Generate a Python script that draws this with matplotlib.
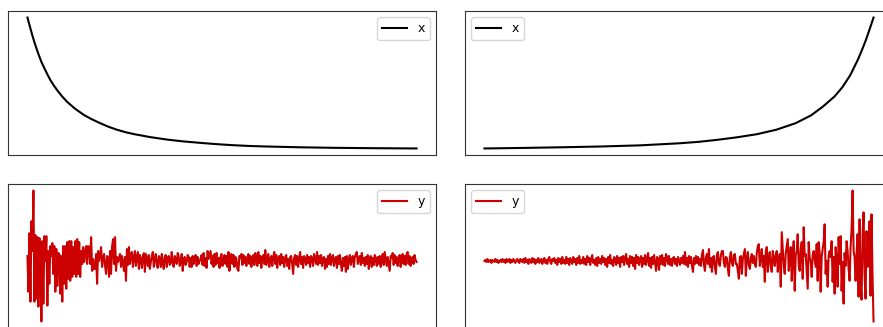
import numpy as np
import matplotlib
matplotlib.use("Agg")
import matplotlib.pyplot as plt

# ---- data ----
# top-left curve (decaying), x normalised 0..1
decay_x = [0.0, 0.005, 0.0085, 0.0125, 0.017, 0.023, 0.030, 0.036, 0.0425, 0.051,
           0.0596, 0.068, 0.0767, 0.089, 0.102, 0.123, 0.145, 0.166, 0.187, 0.208,
           0.230, 0.251, 0.273, 0.315, 0.358, 0.40, 0.443, 0.485, 0.528, 0.57,
           0.614, 0.70, 0.784, 0.89, 1.0]
decay_y = [1.0, 0.945, 0.907, 0.865, 0.82, 0.765, 0.707, 0.66, 0.619, 0.567,
           0.519, 0.48, 0.444, 0.398, 0.356, 0.302, 0.256, 0.222, 0.193, 0.166,
           0.143, 0.125, 0.110, 0.087, 0.068, 0.054, 0.043, 0.033, 0.025, 0.019,
           0.015, 0.009, 0.005, 0.002, 0.0]

# top-right curve (growing)
grow_x = [0.0, 0.1, 0.2, 0.3, 0.4, 0.5, 0.55, 0.6, 0.65, 0.7,
          0.75, 0.8, 0.84, 0.87, 0.9, 0.92, 0.94, 0.96, 0.97, 0.98, 0.99, 1.0]
grow_y = [0.0, 0.004, 0.009, 0.015, 0.0235, 0.039, 0.050, 0.066, 0.085, 0.108,
          0.142, 0.192, 0.252, 0.318, 0.395, 0.465, 0.555, 0.675, 0.745, 0.82, 0.905, 0.993]

# bottom-left noise (decaying amplitude)
noise_left = [
    5, -31, 28, -41, 40, 10, 71, -41, 26, -38, 24, -46, 23, 5, -61, 20, -43, 25, 0, 25,
    -45, 10, -23, 15, 5, 18, -13, 15, -31, 12, -25, 8, 7, -33, 5, -41, 15, -23, 15, -28,
    19, -18, 20, -20, 20, -16, 14, -13, 20, -16, 22, -13, 19, -16, 10, -3, 14, -1, 8, 15,
    -3, 15, 14, -3, 24, -10, 2, -8, -8, 7, -23, 10, 0, 6, 14, -6, 3, 7, -5, -13,
    5, 3, -16, 10, -13, 14, 22, -3, 24, -10, 4, -1, 3, 7, -6, 5, -2, -10, 4, -20,
    12, -4, 14, -3, 6, 9, -6, 3, 10, -5, 4, 9, -8, 6, 2, -7, 5, 8, -11, 7,
    2, -5, 6, -8, -1, 5, 9, -6, 2, 7, -4, -7, 5, 3, -6, 7, -2, -8, 4, 6,
    -6, 3, 5, -4, -1, 9, -3, -6, 5, 2, -3, 8, 4, -5, -1, 7, -10, 1, 4, -4,
    -1, 6, 4, -6, 3, -6, 5, -3, 2, 6, -5, 4, -3, 0, 2, 6, -4, 8, -5, 3,
    -7, 10, 2, 6, 10, -3, 5, -6, 7, -4, 8, -2, 3, -7, 4, 7, -5, 2, 6, -3,
    5, -6, 9, -10, 4, 7, -3, 6, -6, 4, 2, -8, -10, 5, 3, 7, -4, 6, -2, 4,
    -5, 3, 7, -3, 5, -6, 2, 6, -4, 8, 3, -5, 9, -2, 5, -7, 4, 6, -3, 11,
    -4, 3, 7, -6, 2, 5, -5, 4, 9, -3, 6, -7, 3, 5, -4, 7, -2, 4, -6, 3,
    6, -5, 2, -8, 4, 5, -3, -13, 3, 6, -4, 5, -6, 2, 9, -3, 4, -7, 5, 2,
    -4, 6, -2, 4, -6, 5, 3, -5, 7, 2, -3, 9, -4, 5, -2, 6, -5, 3, 4, -8,
    2, -6, 5, -3, 7, -4, 3, 6, -5, 2, 4, -7, 5, -3, 6, -4, -10, 3, -5, 4,
    -11, 5, -8, 2, 6, -4, 3, 5, -6, 4, 7, 9, -3, 2, 5, -4, 8, -2, 3, -5,
    4, -3, 6, -8, 2, 5, -6, 3, -4, 6, 2, -5, 4, -3, 5, -6, 3, 7, -4, 9,
    2, -5, 4, -3, -10, 5, 3, 8, -4, 6, -2, 4, -5, 3, 6, -6, 2, 7, -3, 5,
    -4, 6, 9, -3, 5, -5, 2, 4, -3, 6, 1, -1,
]

# bottom-right noise (growing amplitude)
noise_right = [
    0, 1, -1, 2, -1, 0, 1, -2, 1, 0, -1, 2, -1, 1, -2, 0, 1, -1, 2, -1,
    1, -2, 2, -1, 0, 2, -2, 1, -1, 2, 0, -2, 1, 2, -1, -2, 2, 0, -1, 2,
    -2, 3, -1, 1, -3, 2, 0, -2, 3, -1, 2, -3, 1, -1, 3, -2, 0, 2, -3, 1,
    3, -2, 1, -3, 2, 4, -1, -3, 2, 0, 3, -2, 1, -4, 3, -1, 2, -3, 4, -2,
    1, -3, 4, -2, 2, -4, 3, 0, -3, 4, -1, 2, -4, 3, -2, 5, -3, 1, -2, 4,
    -3, 2, -4, 5, -1, 3, -4, 2, 6, -2, 1, -4, 3, -5, 4, -2, 2, -3, 5, -1,
    3, -4, 2, -6, 4, -2, 6, -3, 1, -5, 4, 2, -4, 5, -2, 3, -6, 4, -1, 5,
    -4, 3, 7, -3, 2, -6, 5, -2, 4, -5, 3, -8, 6, -2, 4, -4, 2, 5, -6, 3,
    -3, 6, -4, 2, 8, -5, 3, -7, 4, -3, 6, -2, -10, 4, 2, -9, 5, -3, 6, -4,
    3, -5, 7, 4, -3, 5, -4, 2, -5, 3, 4, -3, 2, -5, 4, 1, -4, 3, -2, 5,
    -3, 9, -4, 3, -6, 5, -2, 4, -5, -11, 3, -3, 5, -2, 4, -4, 2, -5, 6, 11,
    -4, -10, 4, 7, -3, 12, -6, 3, -11, 4, 5, -7, -13, 6, 9, -3, -5, 6, 10, 10,
    -2, -6, 4, 3, -8, -15, 4, 9, -2, -5, 6, 7, -3, -3, -10, -18, 4, 5, -13, 2,
    7, 12, -15, 3, 9, -4, -8, 3, 7, -2, 5, -3, -6, 8, 15, 17, -5, 3, 12, -6,
    5, -21, 10, 14, -11, 3, 9, -6, -11, 10, 3, -5, 6, 10, -11, 2, 7, -26, 29, 12,
    -5, -13, 8, 15, 22, -10, 3, 14, -20, 5, 20, -30, 6, 10, 27, -4, -10, 12, 19, -18,
    34, 5, 7, -10, -28, 19, 3, 0, -16, 6, 10, 2, -6, 17, -20, 19, 8, -31, 4, 12,
    19, 37, -13, 0, -26, 5, 10, 4, 20, -21, 4, -33, 14, 2, -26, 24, -3, 25, -30, -1,
    -43, 8, -5, 20, 10, -8, -20, 14, 32, 71, 10, 4, -20, 7, 27, -36, 42, -22, -39, 25,
    49, -13, -38, 30, -6, 15, 40, -35, 47, -16, -61,
]

labels = ["x", "y"]
curve_color = "black"
noise_color = "#cc0000"

# ---- figure ----
W, H = 883, 327
fig = plt.figure(figsize=(W / 100, H / 100), dpi=100)

def px_axes(x0, x1, y0, y1):
    return fig.add_axes([x0 / W, 1 - y1 / H, (x1 - x0) / W, (y1 - y0) / H])

ax_tl = px_axes(8, 436, 11, 155)
ax_tr = px_axes(465, 893, 11, 155)
ax_bl = px_axes(8, 436, 184, 328)
ax_br = px_axes(465, 893, 184, 328)

ax_tl.plot(decay_x, decay_y, color=curve_color, lw=1.5, label=labels[0])
ax_tr.plot(grow_x, grow_y, color=curve_color, lw=1.5, label=labels[0])
ax_bl.plot(np.arange(len(noise_left)), noise_left, color=noise_color, lw=1.5, label=labels[1])
ax_br.plot(np.arange(len(noise_right)), noise_right, color=noise_color, lw=1.5, label=labels[1])

for ax, loc in [(ax_tl, "upper right"), (ax_tr, "upper left"),
                (ax_bl, "upper right"), (ax_br, "upper left")]:
    ax.set_xticks([])
    ax.set_yticks([])
    ax.legend(loc=loc, fontsize=9)
    for s in ax.spines.values():
        s.set_color("#333333")

fig.savefig("out.png", dpi=100)
